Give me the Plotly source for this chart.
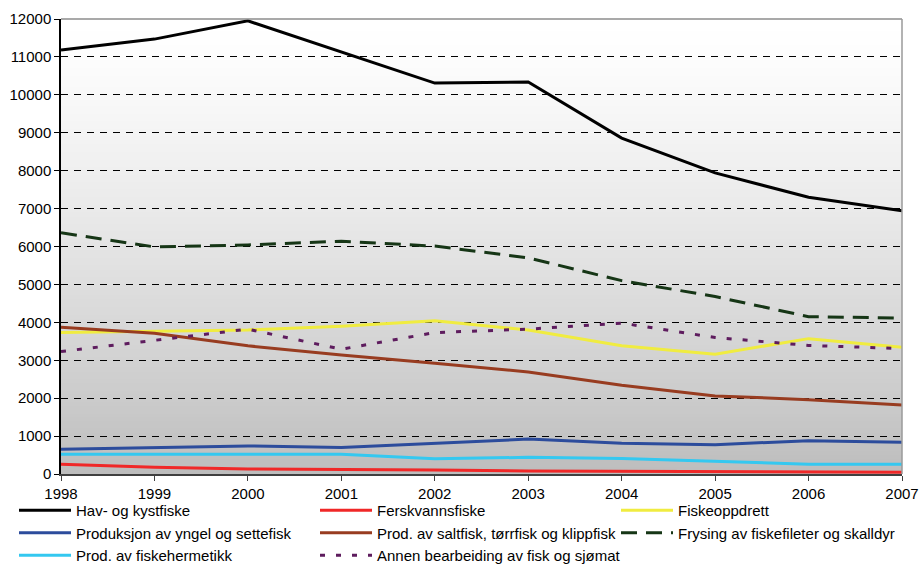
import plotly.graph_objects as go

years = [1998, 1999, 2000, 2001, 2002, 2003, 2004, 2005, 2006, 2007]

hav_kystfiske = [11180, 11470, 11950, 11130, 10310, 10340, 8860, 7940, 7300, 6940]
ferskvannsfiske = [260, 180, 130, 120, 105, 80, 70, 65, 55, 45]
fiskeoppdrett = [3730, 3770, 3800, 3900, 4040, 3800, 3380, 3160, 3570, 3340]
yngel_settefisk = [650, 690, 740, 700, 810, 920, 810, 770, 880, 840]
saltfisk = [3870, 3710, 3380, 3140, 2920, 2690, 2340, 2060, 1960, 1820]
frysing = [6360, 5990, 6040, 6140, 6010, 5700, 5100, 4680, 4150, 4110]
fiskehermetikk = [520, 520, 520, 520, 400, 440, 410, 340, 260, 260]
annen_bearbeiding = [3230, 3530, 3820, 3290, 3730, 3820, 3980, 3600, 3390, 3310]

y_ticks = list(range(0, 12001, 1000))

series = [
    ("Hav- og kystfiske", hav_kystfiske, "#000000", "solid", "legend"),
    ("Ferskvannsfiske", ferskvannsfiske, "#f02828", "solid", "legend2"),
    ("Fiskeoppdrett", fiskeoppdrett, "#f0ec40", "solid", "legend3"),
    ("Produksjon av yngel og settefisk", yngel_settefisk, "#2c4c9c", "solid", "legend"),
    ("Prod. av saltfisk, tørrfisk og klippfisk", saltfisk, "#983c20", "solid", "legend2"),
    ("Frysing av fiskefileter og skalldyr", frysing, "#163616", "16px,9px", "legend3"),
    ("Prod. av fiskehermetikk", fiskehermetikk, "#34c8f0", "solid", "legend"),
    ("Annen bearbeiding av fisk og sjømat", annen_bearbeiding, "#5e1c5e", "5px,11px", "legend2"),
]

fig = go.Figure()
for name, vals, color, dash, leg in series:
    fig.add_trace(go.Scatter(
        x=years, y=vals, name=name, mode="lines",
        line=dict(color=color, width=3, dash=dash),
        legend=leg,
    ))

# gradient background (white top -> grey bottom)
n = 120
shapes = []
for i in range(n):
    t0 = i / n
    t1 = min(1.0, (i + 1) / n + 0.002)
    tm = (i + 0.5) / n
    f = 1 - (1 - tm) ** 1.3
    g = int(round(189 + (255 - 189) * f))
    shapes.append(dict(type="rect", xref="x domain", yref="y domain",
                       x0=0, x1=1, y0=t0, y1=t1, layer="below",
                       line=dict(width=0), fillcolor=f"rgb({g},{g},{g})"))
# top and right borders
shapes.append(dict(type="line", xref="x domain", yref="y domain", x0=0, x1=1, y0=1, y1=1,
                   line=dict(color="#8c8c8c", width=1.5), layer="above"))
shapes.append(dict(type="line", xref="x domain", yref="y domain", x0=1, x1=1, y0=0, y1=1,
                   line=dict(color="#9a9a9a", width=1.5), layer="above"))

font = dict(family="Liberation Sans, Arial, sans-serif", size=15, color="#000000")

W, H = 919, 571

leg_common = dict(orientation="v", xref="container", yref="container", yanchor="top",
                  xanchor="left", bgcolor="rgba(0,0,0,0)", borderwidth=0,
                  font=font, itemwidth=52, tracegroupgap=0)

leg_top = 1 - 494 / H

fig.update_layout(
    width=W, height=H,
    margin=dict(l=61, r=17, t=19, b=97, autoexpand=False),
    paper_bgcolor="#ffffff",
    plot_bgcolor="#ffffff",
    font=font,
    shapes=shapes,
    showlegend=True,
    legend=dict(x=14 / W, y=leg_top, **leg_common),
    legend2=dict(x=315 / W, y=leg_top, **leg_common),
    legend3=dict(x=616 / W, y=leg_top, **leg_common),
    xaxis=dict(range=[1998, 2007], tickmode="array", tickvals=years,
               ticktext=[str(y) for y in years], showgrid=False, zeroline=False,
               showline=True, linecolor="#404040", linewidth=2,
               ticks="outside", ticklen=5, tickcolor="#404040", tickwidth=1,
               tickfont=font, automargin=False),
    yaxis=dict(range=[0, 12000], tickmode="array", tickvals=y_ticks,
               ticktext=[str(v) for v in y_ticks], showgrid=True,
               gridcolor="#000000", gridwidth=1, griddash="7px,6px",
               zeroline=False, showline=True, linecolor="#000000", linewidth=1.5,
               ticks="outside", ticklen=5, tickcolor="#000000", tickwidth=1,
               tickfont=font, automargin=False),
)

fig.write_html(
    "out.html",
    config={"displayModeBar": False},
    post_script="document.body.style.margin='0';document.body.style.overflow='hidden';",
)
